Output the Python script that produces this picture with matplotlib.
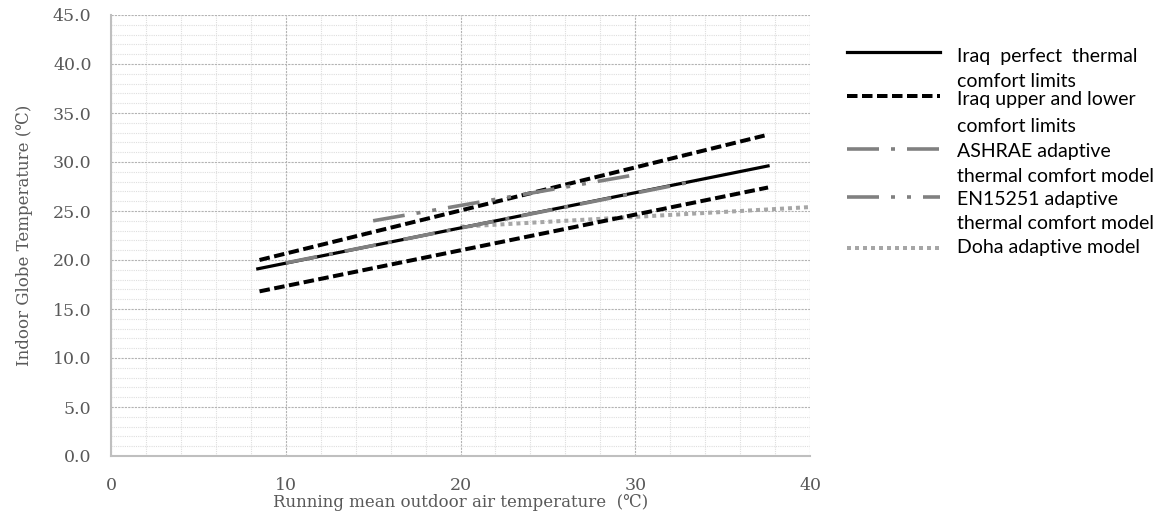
import numpy as np
import matplotlib.pyplot as plt
from matplotlib.lines import Line2D

# data (outdoor running mean temp -> indoor globe temp)
iraq_x = [8.4, 37.6]
iraq_neutral = [19.1, 29.6]
iraq_upper_x = [8.5, 37.4]
iraq_upper = [20.0, 32.7]
iraq_lower_x = [8.5, 37.6]
iraq_lower = [16.8, 27.4]
ashrae_x = [10.0, 33.3]
ashrae_y = [19.7, 28.0]
en_x = [15.0, 29.7]
en_y = [24.0, 28.6]
doha_x = [20.0, 40.0]
doha_y = [23.4, 25.4]

legend_labels = [
    ["Iraq  perfect  thermal", "comfort limits"],
    ["Iraq upper and lower", "comfort limits"],
    ["ASHRAE adaptive", "thermal comfort model"],
    ["EN15251 adaptive", "thermal comfort model"],
    ["Doha adaptive model"],
]

W, H = 1167, 512
fig = plt.figure(figsize=(W / 100, H / 100), dpi=100)
ax = fig.add_axes([111 / W, 1 - 456 / H, (810 - 111) / W, (456 - 15) / H])

serif = ['DejaVu Serif']
txtcol = '#595959'

px = 0.72  # points per pixel at 100 dpi

styles = [
    dict(color='black', lw=3.2 * px, ls='-'),
    dict(color='black', lw=4 * px, dashes=(10.5 / 4, 4.5 / 4)),
    dict(color='#808080', lw=3.6 * px, dashes=(32 / 3.6, 12 / 3.6, 4 / 3.6, 12 / 3.6)),
    dict(color='#808080', lw=3.6 * px, dashes=(32 / 3.6, 12 / 3.6, 4 / 3.6, 12 / 3.6, 4 / 3.6, 12 / 3.6)),
    dict(color='#a6a6a6', lw=4 * px, dashes=(1.0, 1.0)),
]

ax.plot(doha_x, doha_y, **styles[4], zorder=3, clip_on=False)
ax.plot(iraq_upper_x, iraq_upper, **styles[1], zorder=4)
ax.plot(iraq_lower_x, iraq_lower, **styles[1], zorder=4)
ax.plot(iraq_x, iraq_neutral, **styles[0], zorder=4)
ax.plot(ashrae_x, ashrae_y, **styles[2], zorder=5)
ax.plot(en_x, en_y, **styles[3], zorder=5)

ax.set_xlim(0, 40)
ax.set_ylim(0, 45)
ax.set_xticks(np.arange(0, 41, 10))
ax.set_xticks(np.arange(0, 41, 2), minor=True)
ax.set_yticks(np.arange(0, 46, 5))
ax.set_yticks(np.arange(0, 46, 1), minor=True)
ax.set_yticklabels([f"{v:.1f}" for v in np.arange(0, 46, 5)])

ax.grid(which='major', color='#b3b3b3', lw=0.8, ls=(0, (2, 1)))
ax.grid(which='minor', color='#dedede', lw=0.8, ls=(0, (1, 1)))
ax.set_axisbelow(True)

for s in ['top', 'right']:
    ax.spines[s].set_visible(False)
for s in ['left', 'bottom']:
    ax.spines[s].set_color('#bfbfbf')
    ax.spines[s].set_linewidth(1.5)

ax.tick_params(which='both', length=0)
ax.tick_params(axis='x', pad=15, labelsize=12.5, labelcolor=txtcol)
ax.tick_params(axis='y', pad=14, labelsize=12.5, labelcolor=txtcol)
for lab in ax.get_xticklabels() + ax.get_yticklabels():
    lab.set_family(serif)

ax.set_xlabel("Running mean outdoor air temperature  (\u2103)", family=serif,
              fontsize=12, color=txtcol, labelpad=0)
ax.set_ylabel("Indoor Globe Temperature (\u2103)", family=serif,
              fontsize=12, color=txtcol, labelpad=14)

# legend drawn by hand so the handle sits on the first text line
handle_y = [52, 96, 149, 197, 248]
text_y = [[61.7, 86.7], [105, 131.7], [156.7, 181.7], [205, 229.3], [253.3]]
for st, hy, lines, ty in zip(styles, handle_y, legend_labels, text_y):
    fig.add_artist(Line2D([847 / W, 940 / W], [1 - hy / H, 1 - hy / H],
                          transform=fig.transFigure, **st))
    for t, y in zip(lines, ty):
        fig.text(957 / W, 1 - y / H, t, fontsize=14, family=['Lato', 'DejaVu Sans'],
                 va='baseline', ha='left', color='black')

fig.savefig('out.png', dpi=100)
